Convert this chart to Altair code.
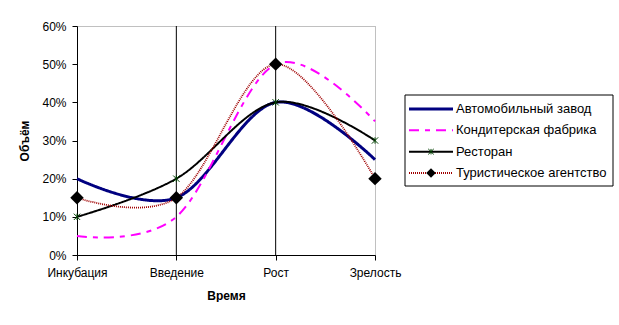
import altair as alt
import pandas as pd

categories = ["Инкубация", "Введение", "Рост", "Зрелость"]
series_names = ["Автомобильный завод", "Кондитерская фабрика", "Ресторан", "Туристическое агентство"]
auto_plant = [0.20, 0.15, 0.40, 0.25]
confectionery = [0.05, 0.10, 0.50, 0.35]
restaurant = [0.10, 0.20, 0.40, 0.30]
travel_agency = [0.15, 0.15, 0.50, 0.20]
y_ticks = [0.0, 0.1, 0.2, 0.3, 0.4, 0.5, 0.6]
grid_cats = ["Введение", "Рост"]

values = [auto_plant, confectionery, restaurant, travel_agency]
rows = []
for name, vals in zip(series_names, values):
    for c, v in zip(categories, vals):
        rows.append({"stage": c, "value": v, "series": name})
df = pd.DataFrame(rows)

styles = {
    "Автомобильный завод": dict(color="#000080", width=3, dash=[1, 0]),
    "Кондитерская фабрика": dict(color="#FF00FF", width=2, dash=[10, 6, 5, 6]),
    "Ресторан": dict(color="#000000", width=2, dash=[1, 0]),
    "Туристическое агентство": dict(color="#a00000", width=1.8, dash=[1, 1]),
}

FONT = "Liberation Sans"
W, H = 298, 229

xscale = alt.Scale(type="point", domain=categories, padding=0)
yscale = alt.Scale(domain=[0, 0.6], nice=False)

x_axis = alt.Axis(title="Время", labelAngle=0, labelAlign="center", labelBaseline="top",
                  grid=False, domainColor="black", tickColor="black", tickSize=5,
                  labelPadding=7, titlePadding=12, labelFont=FONT, labelFontSize=12,
                  labelColor="black", titleFont=FONT, titleFontSize=12,
                  titleFontWeight="bold", titleColor="black", labelOverlap=False)
y_axis = alt.Axis(title="Объём", format=".0%", values=y_ticks, grid=False,
                  domainColor="black", tickColor="black", tickSize=5, labelOverlap=False,
                  labelPadding=6, titlePadding=10, labelFont=FONT,
                  labelFontSize=12, labelColor="black", titleFont=FONT,
                  titleFontSize=12, titleFontWeight="bold", titleColor="black")


def xe():
    return alt.X("stage:N", scale=xscale, sort=categories, axis=x_axis, title="Время")


def ye():
    return alt.Y("value:Q", scale=yscale, axis=y_axis, title="Объём")


grid = alt.Chart(pd.DataFrame({"stage": grid_cats})).mark_rule(
    color="black", strokeWidth=1).encode(x=xe())

layers = [grid]
for name in series_names:
    s = styles[name]
    sub = df[df.series == name]
    layers.append(
        alt.Chart(sub).mark_line(color=s["color"], strokeWidth=s["width"],
                                 strokeDash=s["dash"], interpolate="cardinal",
                                 tension=0).encode(x=xe(), y=ye())
    )

star_path = "M-1,-1L1,1M-1,1L1,-1M0,-1L0,1"
rest_pts = alt.Chart(df[df.series == "Ресторан"]).mark_point(
    shape=star_path, size=40, color="#004000", strokeWidth=1, filled=False, opacity=1
).encode(x=xe(), y=ye())
tour_pts = alt.Chart(df[df.series == "Туристическое агентство"]).mark_point(
    shape="diamond", size=180, color="black", filled=True, opacity=1
).encode(x=xe(), y=ye())
layers += [rest_pts, tour_pts]

main = alt.layer(*layers).properties(
    width=W, height=H,
    view=alt.ViewBackground(stroke="#808080", strokeDash=[1, 1], strokeWidth=1),
)

# legend panel
leg_df = pd.DataFrame({"series": series_names, "row": [0, 1, 2, 3]})
yrow = alt.Y("row:O", scale=alt.Scale(type="point", range=[83, 147], padding=0), axis=None)
box = alt.Chart(pd.DataFrame({"a": [0]})).mark_rect(fill="white", stroke="black", strokeWidth=1).encode(
    x=alt.value(0), x2=alt.value(208), y=alt.value(69), y2=alt.value(160))
leg_layers = [box]
for name in series_names:
    s = styles[name]
    leg_layers.append(
        alt.Chart(leg_df[leg_df.series == name]).mark_rule(
            color=s["color"], strokeWidth=s["width"], strokeDash=s["dash"]
        ).encode(x=alt.value(4), x2=alt.value(48), y=yrow)
    )
leg_layers.append(
    alt.Chart(leg_df[leg_df.series == "Ресторан"]).mark_point(
        shape=star_path, size=30, color="#004000", strokeWidth=1, filled=False, opacity=1
    ).encode(x=alt.value(26), y=yrow))
leg_layers.append(
    alt.Chart(leg_df[leg_df.series == "Туристическое агентство"]).mark_point(
        shape="diamond", size=90, color="black", filled=True, opacity=1
    ).encode(x=alt.value(26), y=yrow))
leg_layers.append(
    alt.Chart(leg_df).mark_text(align="left", baseline="middle", font=FONT, fontSize=13,
                                color="black").encode(x=alt.value(51), y=yrow, text="series:N"))
legend = alt.layer(*leg_layers).properties(
    width=208, height=H, view=alt.ViewBackground(stroke="transparent"))

chart = alt.hconcat(main, legend, spacing=30, bounds="flush").properties(
    padding={"left": 18, "top": 19, "right": 0, "bottom": 0},
    background="white",
)

chart.save("out.html", embed_options={"renderer": "svg", "actions": False})
